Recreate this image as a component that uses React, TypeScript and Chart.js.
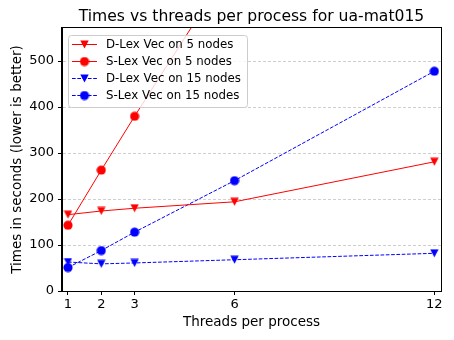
import React, { useEffect, useRef } from "react";
import { Chart, registerables } from "chart.js";

Chart.register(...registerables);

const threads = [1, 2, 3, 6, 12];
const dlex5 = [166, 174, 180, 194, 281];
const slex5 = [143, 263, 380, 720, 1450];
const dlex15 = [63, 59, 61, 68, 82];
const slex15 = [51, 88, 128, 240, 478];
const xTicks = [1, 2, 3, 6, 12];
const yTicks = [0, 100, 200, 300, 400, 500];

const titleText = "Times vs threads per process for ua-mat015";
const seriesLabels = [
  "D-Lex Vec on 5 nodes",
  "S-Lex Vec on 5 nodes",
  "D-Lex Vec on 15 nodes",
  "S-Lex Vec on 15 nodes",
];

const RED = "#ff0000";
const BLUE = "#0000ff";
const FONT = "'DejaVu Sans', sans-serif";

function makeTriangle(color: string): HTMLCanvasElement {
  const c = document.createElement("canvas");
  c.width = 9;
  c.height = 9;
  const g = c.getContext("2d")!;
  g.fillStyle = color;
  g.beginPath();
  g.moveTo(0.3, 0.5);
  g.lineTo(8.7, 0.5);
  g.lineTo(4.5, 8.6);
  g.closePath();
  g.fill();
  return c;
}

function makeCircle(color: string): HTMLCanvasElement {
  const c = document.createElement("canvas");
  c.width = 10;
  c.height = 10;
  const g = c.getContext("2d")!;
  g.fillStyle = color;
  g.beginPath();
  g.arc(5, 5, 4.6, 0, Math.PI * 2);
  g.fill();
  return c;
}

export default function App() {
  const ref = useRef<HTMLCanvasElement | null>(null);

  useEffect(() => {
    document.body.style.margin = "0";
    const triR = makeTriangle(RED);
    const triB = makeTriangle(BLUE);
    const cirR = makeCircle(RED);
    const cirB = makeCircle(BLUE);

    const mk = (ys: number[]) => threads.map((t, i) => ({ x: t, y: ys[i] }));

    const styles = [
      { color: RED, dash: [] as number[], img: triR },
      { color: RED, dash: [] as number[], img: cirR },
      { color: BLUE, dash: [3.7, 1.6], img: triB },
      { color: BLUE, dash: [3.7, 1.6], img: cirB },
    ];
    const dataSets = [dlex5, slex5, dlex15, slex15];

    const overlay = {
      id: "overlay",
      afterDatasetsDraw(chart: any) {
        const { ctx, chartArea } = chart;
        const { left, right, top, bottom } = chartArea;
        ctx.save();
        // frame
        ctx.strokeStyle = "#000";
        ctx.lineWidth = 1;
        ctx.strokeRect(Math.round(left) - 0.5, Math.round(top) - 0.5, Math.round(right - left) + 1, Math.round(bottom - top) + 1);
        // title
        ctx.fillStyle = "#000";
        ctx.font = `15.6px ${FONT}`;
        ctx.textAlign = "center";
        ctx.textBaseline = "middle";
        ctx.fillText(titleText, (left + right) / 2, 17);
        // legend
        const lx = 68.5, ly = 35.5, lw = 179, lh = 72, r = 3;
        ctx.beginPath();
        ctx.moveTo(lx + r, ly);
        ctx.lineTo(lx + lw - r, ly);
        ctx.arcTo(lx + lw, ly, lx + lw, ly + r, r);
        ctx.lineTo(lx + lw, ly + lh - r);
        ctx.arcTo(lx + lw, ly + lh, lx + lw - r, ly + lh, r);
        ctx.lineTo(lx + r, ly + lh);
        ctx.arcTo(lx, ly + lh, lx, ly + lh - r, r);
        ctx.lineTo(lx, ly + r);
        ctx.arcTo(lx, ly, lx + r, ly, r);
        ctx.closePath();
        ctx.fillStyle = "rgba(255,255,255,0.8)";
        ctx.fill();
        ctx.strokeStyle = "#cccccc";
        ctx.stroke();
        ctx.font = `11.8px ${FONT}`;
        ctx.textAlign = "left";
        ctx.textBaseline = "middle";
        const rows = [44, 61, 78, 95];
        styles.forEach((s, i) => {
          const y = rows[i];
          ctx.strokeStyle = s.color;
          ctx.lineWidth = 1;
          ctx.setLineDash(s.dash);
          ctx.beginPath();
          ctx.moveTo(72, y + 0.5);
          ctx.lineTo(97, y + 0.5);
          ctx.stroke();
          ctx.setLineDash([]);
          ctx.drawImage(s.img, 84.5 - s.img.width / 2, y + 0.5 - s.img.height / 2);
          ctx.fillStyle = "#000";
          ctx.fillText(seriesLabels[i], 106, y + 1);
        });
        ctx.restore();
      },
    };

    const chart = new Chart(ref.current!, {
      type: "line",
      data: {
        datasets: dataSets.map((d, i) => ({
          label: seriesLabels[i],
          data: mk(d),
          borderColor: styles[i].color,
          backgroundColor: styles[i].color,
          borderWidth: 1,
          borderDash: styles[i].dash,
          pointStyle: styles[i].img as any,
          pointRadius: 4.5,
          pointHoverRadius: 4.5,
          fill: false,
          tension: 0,
          clip: 0,
        })),
      },
      options: {
        responsive: false,
        animation: false,
        events: [],
        layout: { padding: { top: 28, right: 13, left: 0, bottom: 0 } },
        plugins: {
          legend: { display: false },
          title: { display: false },
          tooltip: { enabled: false },
        },
        scales: {
          x: {
            type: "linear",
            min: 0.82,
            max: 12.2,
            afterFit: (s: any) => {
              s.height = 49;
            },
            afterBuildTicks: (s: any) => {
              s.ticks = xTicks.map((v) => ({ value: v }));
            },
            grid: {
              drawOnChartArea: false,
              tickLength: 4,
              tickColor: "#000",
              tickWidth: 1,
            },
            border: { color: "#000", width: 1 },
            ticks: {
              color: "#000",
              font: { family: FONT, size: 13 },
              padding: 2,
              maxRotation: 0,
              autoSkip: false,
            },
            title: {
              display: true,
              text: "Threads per process",
              color: "#000",
              font: { family: FONT, size: 13.5 },
              padding: { top: 0, bottom: 9 },
            },
          },
          y: {
            type: "linear",
            min: 0,
            max: 572,
            afterFit: (s: any) => {
              s.width = 62;
            },
            afterBuildTicks: (s: any) => {
              s.ticks = yTicks.map((v) => ({ value: v }));
            },
            grid: {
              color: "#cfcfcf",
              tickLength: 4,
              tickColor: "#000",
              tickWidth: 1,
              tickBorderDash: [],
            } as any,
            border: { color: "#000", width: 1, dash: [3, 2] },
            ticks: {
              color: "#000",
              font: { family: FONT, size: 13 },
              padding: 4,
            },
            title: {
              display: true,
              text: "Times in seconds (lower is better)",
              color: "#000",
              font: { family: FONT, size: 13.5 },
              padding: { top: 9, bottom: 0 },
            },
          },
        },
      },
      plugins: [overlay],
    });
    return () => chart.destroy();
  }, []);

  return (
    <div style={{ position: "absolute", left: 0, top: 0, width: 454, height: 340 }}>
      <canvas ref={ref} width={454} height={340} style={{ width: 454, height: 340 }} />
    </div>
  );
}
